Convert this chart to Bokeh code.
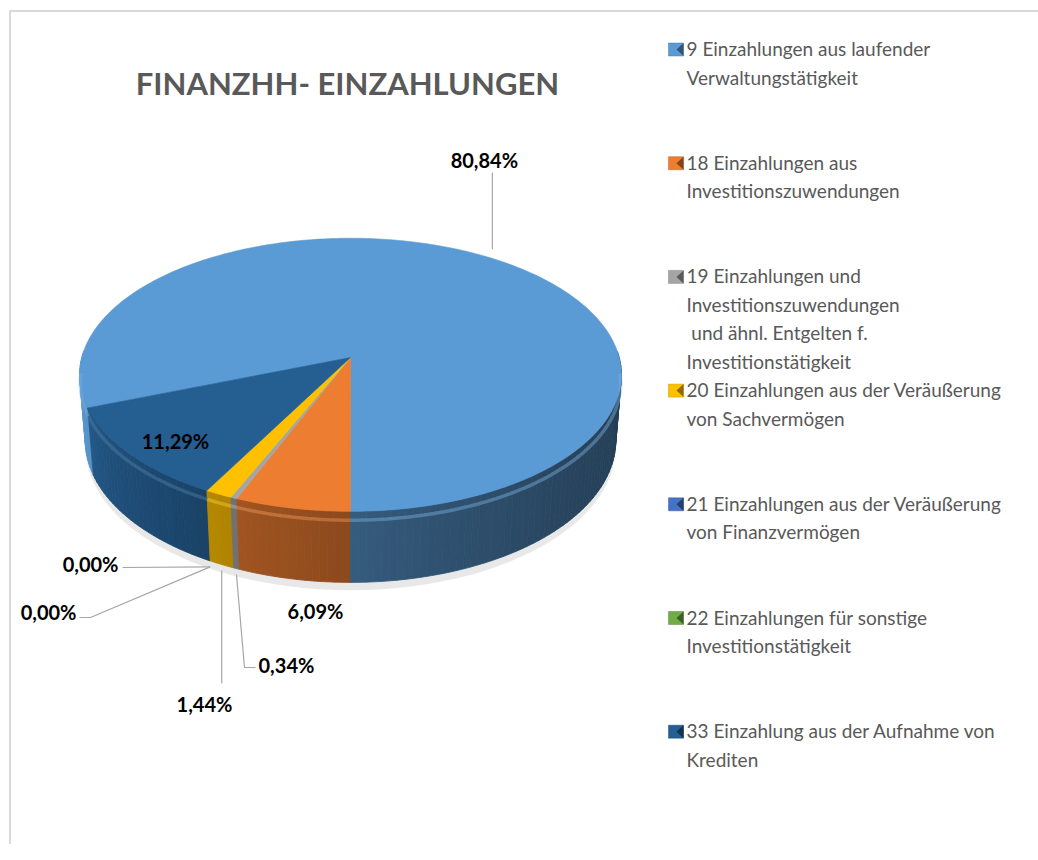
import math
from bokeh.plotting import figure
from bokeh.models import Range1d
from bokeh.embed import file_html
from bokeh.resources import INLINE
from bokeh.core.properties import value

# ---------------- data ----------------
categories = [
    "9 Einzahlungen aus laufender\nVerwaltungstätigkeit",
    "18 Einzahlungen aus\nInvestitionszuwendungen",
    "19 Einzahlungen und\nInvestitionszuwendungen\n\u00a0und ähnl. Entgelten f.\nInvestitionstätigkeit",
    "20 Einzahlungen aus der Veräußerung\nvon Sachvermögen",
    "21 Einzahlungen aus der Veräußerung\nvon Finanzvermögen",
    "22 Einzahlungen für sonstige\nInvestitionstätigkeit",
    "33 Einzahlung aus der Aufnahme von\nKrediten",
]
shares = [80.84, 6.09, 0.34, 1.44, 0.00, 0.00, 11.29]
pct_labels = ["80,84%", "6,09%", "0,34%", "1,44%", "0,00%", "0,00%", "11,29%"]
colors = ["#5B9BD5", "#ED7D31", "#A5A5A5", "#FFC000", "#4472C4", "#70AD47", "#255E91"]
title = "FINANZHH- EINZAHLUNGEN"

# ---------------- layout / style ----------------
W, H = 1038, 844
FONT = "Lato"
ROT = 249.0            # first slice angle (deg, clockwise from 12 o'clock)
CX, CY = 350.0, 357.0  # projected pie centre (page px)
F, D, PHI, THICK = 1838.0, 6.84, math.radians(30), 0.287


def proj(theta_deg, r=1.0, depth=0.0):
    t = math.radians(theta_deg)
    u = r * math.sin(t)
    v = -r * math.cos(t)
    s, c = math.sin(PHI), math.cos(PHI)
    Y = v * s + depth * c
    Z = D - v * c + depth * s
    return CX + F * u / Z, CY + F * Y / Z


def hex2rgb(h):
    h = h.lstrip("#")
    return tuple(int(h[i:i + 2], 16) for i in (0, 2, 4))


def shade(h, k):
    r, g, b = hex2rgb(h)
    if k <= 1:
        return "#%02x%02x%02x" % (int(r * k), int(g * k), int(b * k))
    k2 = k - 1
    return "#%02x%02x%02x" % (int(r + (255 - r) * k2), int(g + (255 - g) * k2), int(b + (255 - b) * k2))


def side_k(theta):
    t = theta % 360
    x = min(max((t - 90) / 170.0, 0.0), 1.0)
    return 0.40 + 0.6 * x ** 1.8


p = figure(width=W, height=H, x_range=Range1d(0, W), y_range=Range1d(H, 0),
           output_backend="svg", toolbar_location=None, min_border=0,
           x_axis_location=None, y_axis_location=None, outline_line_color=None,
           background_fill_color="white", border_fill_color="white")
p.grid.visible = False

# chart area border (left and top visible)
p.line([9.5, 9.5, W], [H, 10.5, 10.5], line_color="#D9D9D9", line_width=2)

# ---------------- slices ----------------
total = sum(shares)
starts, ends = [], []
acc = ROT
for s_ in shares:
    starts.append(acc)
    acc += s_ / total * 360.0
    ends.append(acc)

# soft shadow under the pie
sh_x, sh_y = [], []
for j in range(0, 361, 3):
    x, y = proj(j, r=1.0, depth=THICK + 0.02)
    sh_x.append(x)
    sh_y.append(y + 3)
p.patch(sh_x, sh_y, fill_color="#7F7F7F", fill_alpha=0.18, line_color=None)

# side walls (painter's order: back to front)
quads = []
for i, (a, b) in enumerate(zip(starts, ends)):
    if b - a <= 0:
        continue
    n = max(1, int(math.ceil((b - a) / 1.5)))
    for j in range(n):
        t0 = a + (b - a) * j / n
        t1 = a + (b - a) * (j + 1) / n
        tm = 0.5 * (t0 + t1)
        vm = -math.cos(math.radians(tm))
        if vm < -0.05:
            continue
        x0, y0 = proj(t0)
        x1, y1 = proj(t1)
        x2, y2 = proj(t1, depth=THICK)
        x3, y3 = proj(t0, depth=THICK)
        quads.append((vm, [x0, x1, x2, x3], [y0, y1, y2, y3], shade(colors[i], side_k(tm))))
quads.sort(key=lambda q: q[0])
p.patches([q[1] for q in quads], [q[2] for q in quads], fill_color=[q[3] for q in quads],
          line_color=[q[3] for q in quads], line_width=0.8)

# top faces
xs_top, ys_top, fc = [], [], []
for i, (a, b) in enumerate(zip(starts, ends)):
    if b - a <= 0:
        continue
    n = max(2, int(math.ceil((b - a) / 1.0)))
    xs, ys = [CX], [CY]
    for j in range(n + 1):
        x, y = proj(a + (b - a) * j / n)
        xs.append(x)
        ys.append(y)
    xs_top.append(xs)
    ys_top.append(ys)
    fc.append(colors[i])
p.patches(xs_top, ys_top, fill_color=fc, line_color=fc, line_width=0.6)

# rim highlight on front edge (contiguous runs only)
for i, (a, b) in enumerate(zip(starts, ends)):
    if b - a <= 0:
        continue
    n = max(2, int(math.ceil((b - a) / 1.0)))
    runs, cur = [], []
    for j in range(n + 1):
        t = a + (b - a) * j / n
        if -math.cos(math.radians(t)) > 0.05:
            cur.append(proj(t, depth=0.035))
        elif cur:
            runs.append(cur)
            cur = []
    if cur:
        runs.append(cur)
    for run in runs:
        if len(run) > 1:
            p.line([q[0] for q in run], [q[1] for q in run], line_color=shade(colors[i], 1.2),
                   line_width=3.5, line_alpha=0.45)

# ---------------- data labels ----------------
mid = [0.5 * (a + b) for a, b in zip(starts, ends)]
LBL = dict(text_font=value(FONT), text_font_style="bold", text_color="black",
           text_font_size="20px", text_baseline="middle")
lead = dict(line_color="#A6A6A6", line_width=1.2)

# 80,84%
ax, ay = proj(mid[0])
p.line([ax + 4, ax + 4], [ay - 8, 172], **lead)
p.text([ax - 4], [159], text=[pct_labels[0]], text_align="center", **LBL)
# 6,09%
p.text([315], [610], text=[pct_labels[1]], text_align="center", **LBL)
# 0,34%
ax, ay = proj(mid[2], depth=THICK)
p.line([ax, ax + 8, 255], [ay + 6, 667, 667], **lead)
p.text([258], [664], text=[pct_labels[2]], text_align="left", **LBL)
# 1,44%
ax, ay = proj(mid[3], depth=THICK)
p.line([ax, ax], [ay + 6, 683], **lead)
p.text([204], [703], text=[pct_labels[3]], text_align="center", **LBL)
# 0,00% (21)
ax, ay = proj(mid[4], depth=THICK)
p.line([ax, 122], [ay + 6, 567], **lead)
p.text([118], [563], text=[pct_labels[4]], text_align="right", **LBL)
# 0,00% (22)
ax, ay = proj(mid[5], depth=THICK)
p.line([ax, 90, 79], [ay + 6, 617, 617], **lead)
p.text([76], [611], text=[pct_labels[5]], text_align="right", **LBL)
# 11,29%
p.text([175], [440], text=[pct_labels[6]], text_align="center", **LBL)

# ---------------- title ----------------
p.text([347], [82], text=[title], text_font=value(FONT), text_font_style="bold",
       text_font_size="31px", text_color="#595959", text_align="center", text_baseline="middle")

# ---------------- legend ----------------
LEG_X, LEG_Y0, LEG_STEP, LINE_H = 668.0, 48.0, 113.7, 28.5
for i, cat in enumerate(categories):
    y0 = LEG_Y0 + i * LEG_STEP
    p.rect([LEG_X + 7.5], [y0 + 1], width=15, height=13, fill_color=colors[i],
           line_color=shade(colors[i], 0.8), line_width=0.5)
    p.patch([LEG_X + 8, LEG_X + 15, LEG_X + 15], [y0 + 1, y0 - 5.5, y0 + 7.5],
            fill_color=shade(colors[i], 0.55), line_color=None)
    for j, line in enumerate(cat.split("\n")):
        p.text([LEG_X + 18], [y0 + j * LINE_H], text=[line], text_font=value(FONT),
               text_font_size="19px", text_color="#595959", text_align="left",
               text_baseline="middle")

open("out.html", "w").write(file_html(p, INLINE))
